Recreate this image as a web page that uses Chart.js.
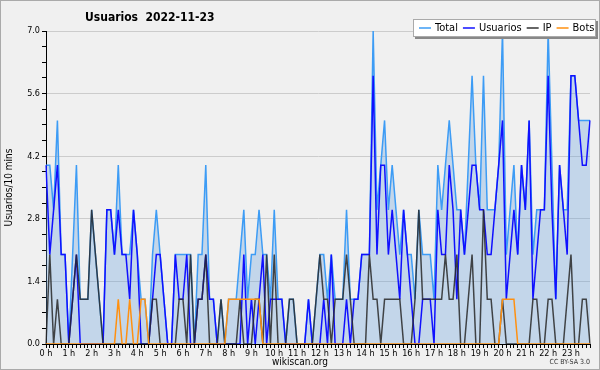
<!DOCTYPE html>
<html>
<head>
<meta charset="utf-8">
<script src="https://cdn.jsdelivr.net/npm/chart.js@4/dist/chart.umd.min.js"></script>
<style>
  html, body { margin: 0; padding: 0; background: #f0f0f0; }
  canvas { display: block; }
</style>
</head>
<body>
<canvas id="chart" width="600" height="370"></canvas>
<script>
// one value every 10 minutes, 00:00 -> 23:50
const hourLabels = ['0 h', '1 h', '2 h', '3 h', '4 h', '5 h', '6 h', '7 h', '8 h', '9 h', '10 h', '11 h',
  '12 h', '13 h', '14 h', '15 h', '16 h', '17 h', '18 h', '19 h', '20 h', '21 h', '22 h', '23 h'];

const total = [
  4, 4, 3, 5, 2, 2, 0, 2, 4, 1, 1, 1,
  3, 2, 1, 0, 3, 3, 2, 4, 2, 2, 2, 3,
  2, 1, 1, 0, 2, 3, 2, 1, 0, 0, 2, 2,
  2, 2, 2, 0, 2, 2, 4, 1, 1, 0, 1, 0,
  1, 1, 1, 2, 3, 1, 2, 2, 3, 2, 2, 1,
  3, 1, 1, 0, 1, 1, 0, 0, 0, 1, 0, 1,
  2, 2, 1, 2, 1, 1, 1, 3, 1, 1, 1, 2,
  2, 2, 7, 3, 4, 5, 3, 4, 3, 2, 3, 2,
  2, 1, 3, 2, 2, 2, 1, 4, 3, 4, 5, 4,
  3, 3, 2, 4, 6, 4, 3, 6, 3, 3, 3, 4,
  7, 2, 3, 4, 2, 4, 3, 5, 2, 3, 3, 3,
  7, 4, 1, 4, 3, 3, 6, 6, 5, 5, 5, 5
];
const usuarios = [
  4, 2, 3, 4, 2, 2, 0, 1, 2, 0, 0, 0,
  0, 0, 0, 0, 3, 3, 2, 3, 2, 2, 1, 3,
  2, 0, 0, 0, 1, 2, 2, 1, 0, 0, 2, 1,
  1, 2, 0, 0, 1, 1, 2, 1, 1, 0, 0, 0,
  0, 0, 0, 0, 2, 0, 1, 0, 1, 2, 0, 1,
  1, 1, 1, 0, 0, 0, 0, 0, 0, 1, 0, 0,
  0, 1, 0, 2, 0, 0, 0, 1, 0, 1, 1, 2,
  2, 2, 6, 2, 4, 4, 2, 3, 2, 1, 3, 2,
  1, 0, 0, 1, 1, 1, 0, 3, 2, 2, 4, 3,
  1, 3, 2, 3, 4, 4, 3, 3, 2, 2, 3, 4,
  5, 1, 2, 3, 2, 4, 3, 5, 1, 2, 3, 3,
  6, 3, 1, 4, 3, 2, 6, 6, 5, 4, 4, 5
];
const ip = [
  0, 2, 0, 1, 0, 0, 0, 1, 2, 1, 1, 1,
  3, 2, 1, 0, 0, 0, 0, 0, 0, 0, 0, 0,
  0, 0, 0, 0, 1, 1, 0, 0, 0, 0, 0, 1,
  1, 0, 2, 0, 1, 1, 2, 0, 0, 0, 1, 0,
  0, 0, 0, 1, 0, 0, 0, 1, 1, 0, 2, 0,
  2, 0, 0, 0, 1, 1, 0, 0, 0, 0, 0, 1,
  2, 1, 1, 0, 1, 1, 1, 2, 1, 0, 0, 0,
  0, 2, 1, 1, 0, 1, 1, 1, 1, 1, 0, 0,
  0, 1, 3, 1, 1, 1, 1, 1, 1, 2, 1, 1,
  2, 0, 0, 1, 2, 0, 0, 3, 1, 1, 0, 0,
  1, 0, 0, 0, 0, 0, 0, 0, 1, 1, 0, 0,
  1, 1, 0, 0, 0, 1, 2, 0, 0, 1, 1, 0
];
const bots = [
  0, 0, 0, 0, 0, 0, 0, 0, 0, 0, 0, 0,
  0, 0, 0, 0, 0, 0, 0, 1, 0, 0, 1, 0,
  0, 1, 1, 0, 0, 0, 0, 0, 0, 0, 0, 0,
  0, 0, 0, 0, 0, 0, 0, 0, 0, 0, 0, 0,
  1, 1, 1, 1, 1, 1, 1, 1, 1, 0, 0, 0,
  0, 0, 0, 0, 0, 0, 0, 0, 0, 0, 0, 0,
  0, 0, 0, 0, 0, 0, 0, 0, 0, 0, 0, 0,
  0, 0, 0, 0, 0, 0, 0, 0, 0, 0, 0, 0,
  0, 0, 0, 0, 0, 0, 0, 0, 0, 0, 0, 0,
  0, 0, 0, 0, 0, 0, 0, 0, 0, 0, 0, 0,
  1, 1, 1, 1, 0, 0, 0, 0, 0, 0, 0, 0,
  0, 0, 0, 0, 0, 0, 0, 0, 0, 0, 0, 0
];

const FONT = "'DejaVu Sans Condensed', 'DejaVu Sans', sans-serif";
Chart.defaults.font.family = FONT;
Chart.defaults.color = '#000';

// category per point, "HH:MM"
const times = total.map((_, i) =>
  String(Math.floor(i / 6)).padStart(2, '0') + ':' + String((i % 6) * 10).padStart(2, '0'));

const legendItems = [
  { label: 'Total', color: '#3d9cf5' },
  { label: 'Usuarios', color: '#1010ff' },
  { label: 'IP', color: '#333333' },
  { label: 'Bots', color: '#ff9010' },
];

const decor = {
  id: 'decor',
  beforeDraw(chart) {
    const ctx = chart.ctx;
    ctx.save();
    ctx.fillStyle = '#f0f0f0';
    ctx.fillRect(0, 0, chart.width, chart.height);
    ctx.restore();
  },
  afterDraw(chart) {
    const ctx = chart.ctx;
    ctx.save();
    // title
    ctx.fillStyle = '#000';
    ctx.font = 'bold 12px ' + FONT;
    ctx.textBaseline = 'middle';
    ctx.textAlign = 'left';
    ctx.fillText('Usuarios  2022-11-23', 85, 18);

    // legend box
    const bx = 413, by = 19, bw = 183, bh = 18;
    ctx.fillStyle = '#888';
    ctx.fillRect(bx + 2, by + 2, bw, bh);
    ctx.fillStyle = '#fff';
    ctx.fillRect(bx, by, bw, bh);
    ctx.strokeStyle = '#aaa';
    ctx.lineWidth = 1;
    ctx.strokeRect(bx + 0.5, by + 0.5, bw - 1, bh - 1);
    ctx.font = '11px ' + FONT;
    let x = bx + 6;
    const ly = by + bh / 2;
    legendItems.forEach(item => {
      ctx.strokeStyle = item.color;
      ctx.lineWidth = 1.5;
      ctx.beginPath();
      ctx.moveTo(x, ly);
      ctx.lineTo(x + 12, ly);
      ctx.stroke();
      ctx.fillStyle = '#000';
      ctx.fillText(item.label, x + 16, ly + 0.5);
      x += 16 + ctx.measureText(item.label).width + 5;
    });

    // footer
    ctx.font = '10px ' + FONT;
    ctx.textAlign = 'center';
    ctx.fillText('wikiscan.org', 300, 362);
    ctx.font = '7px ' + FONT;
    ctx.textAlign = 'right';
    ctx.fillStyle = '#333';
    ctx.fillText('CC BY-SA 3.0', 590, 362);

    // outer frame
    ctx.strokeStyle = '#aaa';
    ctx.lineWidth = 1;
    ctx.strokeRect(0.5, 0.5, chart.width - 1, chart.height - 1);
    ctx.restore();
  }
};

const ctx = document.getElementById('chart').getContext('2d');
new Chart(ctx, {
  type: 'line',
  data: {
    labels: times,
    datasets: [
      {
        label: 'Total',
        data: total,
        borderColor: '#3d9cf5',
        backgroundColor: 'rgba(100, 160, 222, 0.32)',
        fill: 'origin',
        borderWidth: 1.5,
        order: 4,
      },
      {
        label: 'Usuarios',
        data: usuarios,
        borderColor: '#1010ff',
        borderWidth: 1.5,
        fill: false,
        order: 3,
      },
      {
        label: 'IP',
        data: ip,
        borderColor: 'rgba(40, 40, 40, 0.85)',
        borderWidth: 1.5,
        fill: false,
        order: 2,
      },
      {
        label: 'Bots',
        data: bots,
        borderColor: '#ff9010',
        borderWidth: 1.5,
        fill: false,
        order: 1,
      },
    ],
  },
  options: {
    responsive: false,
    animation: false,
    devicePixelRatio: 1,
    layout: { padding: { top: 31, right: 10, left: 0, bottom: 0 } },
    elements: {
      point: { radius: 0 },
      line: { tension: 0 },
    },
    plugins: {
      legend: { display: false },
      title: { display: false },
      tooltip: { enabled: false },
    },
    scales: {
      x: {
        type: 'category',
        offset: false,
        z: 1,
        border: { color: '#000', width: 1 },
        grid: { drawOnChartArea: false, tickLength: 4, tickColor: '#000' },
        ticks: {
          autoSkip: false,
          maxRotation: 0,
          padding: 0,
          font: { size: 9 },
          callback: (v, i) => (i % 6 === 0 ? hourLabels[i / 6] : ''),
        },
        afterFit: (scale) => { scale.height = 26; },
      },
      y: {
        min: 0,
        max: 7,
        border: { color: '#000', width: 1 },
        grid: {
          color: (c) => (c.index % 4 === 0 ? '#cccccc' : 'rgba(0,0,0,0)'),
          tickColor: '#000',
          tickLength: 4,
        },
        ticks: {
          stepSize: 0.35,
          padding: 2,
          font: { size: 9 },
          callback: (v, i) => (i % 4 === 0 ? (i * 0.35).toFixed(1) : ''),
        },
        title: {
          display: true,
          text: 'Usuarios/10 mins',
          font: { size: 10 },
          padding: { top: 3, bottom: 0 },
        },
        afterFit: (scale) => { scale.width = 46; },
      },
    },
  },
  plugins: [decor],
});
</script>
</body>
</html>
